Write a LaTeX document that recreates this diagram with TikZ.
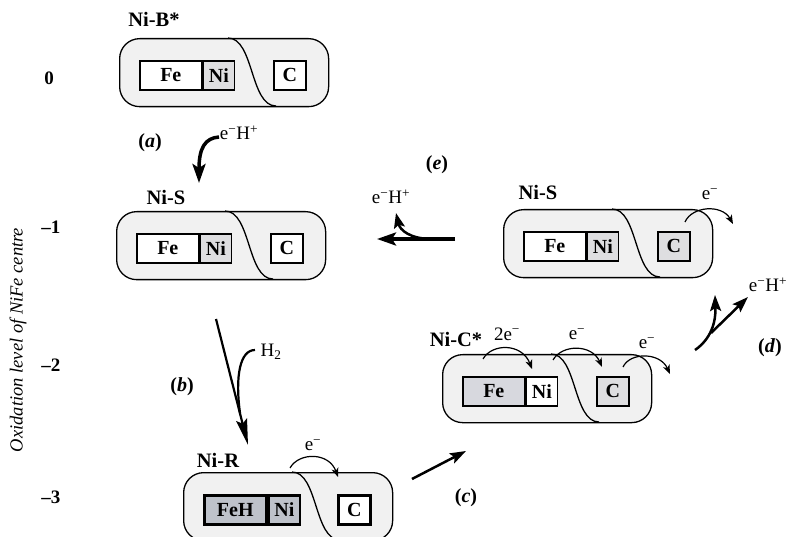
\documentclass[tikz,border=0pt]{standalone}
\usepackage{fontspec}
\setmainfont{Liberation Serif}
\usetikzlibrary{arrows.meta,calc}
\definecolor{boxbg}{RGB}{241,241,241}
\definecolor{nilt}{RGB}{222,222,224}
\definecolor{femid}{RGB}{215,216,222}
\definecolor{rgray}{RGB}{190,194,202}
\newcommand\cpx[7]{%
  \node[outer] (#1-out) at (#2) {};
  \draw[line width=1.3pt] ($(#1-out.north west)+(109,0)$) .. controls +(26,0) and +(-26,0) .. ($(#1-out.north west)+(157,68)$);
  \node[inbox, fill=#3, minimum width=62pt, #7] (#1-fe) at ($(#1-out.north west)+(20,22)$) {#6};
  \node[inbox, fill=#4, minimum width=31pt, #7] (#1-ni) at (#1-fe.north east) {Ni};
  \node[inbox, fill=#5, minimum width=32pt, #7] (#1-c) at ($(#1-out.north west)+(154,22)$) {C};
}
\begin{document}
\begin{tikzpicture}[x=1pt,y=-1pt,
  outer/.style={draw, line width=1.3pt, rounded corners=20pt, fill=boxbg, minimum width=209pt, minimum height=68pt, inner sep=0pt, anchor=north west},
  inbox/.style={draw, line width=1.6pt, minimum height=29pt, inner sep=0pt, anchor=north west, font=\fontsize{20}{22}\selectfont\bfseries},
  thickbox/.style={line width=2.6pt},
  lab/.style={font=\fontsize{20.5}{22}\selectfont\bfseries, inner sep=0pt},
  lev/.style={font=\fontsize{19}{22}\selectfont\bfseries, inner sep=0pt},
  chem/.style={font=\fontsize{19}{22}\selectfont, inner sep=0pt},
  plabel/.style={font=\fontsize{20}{22}\selectfont\bfseries, inner sep=0pt},
  thinarr/.style={line width=1.2pt, -{Stealth[length=9pt,width=7pt,inset=2.5pt]}},
  bigarr/.style={line width=3.5pt, -{Stealth[length=19pt,width=13pt,inset=4pt]}},
  medarr/.style={line width=2.5pt, -{Stealth[length=16pt,width=11pt,inset=3pt]}},
]
\useasboundingbox (0,0) rectangle (790,537);

% axis
\node[rotate=90, font=\fontsize{18.5}{22}\selectfont\itshape, inner sep=0pt] (axis) at (18,340) {Oxidation level of NiFe centre};
\node[lev] (l0) at (49,78) {0};
\node[lev] (l1) at (51,227) {–1};
\node[lev] (l2) at (51,365) {–2};
\node[lev] (l3) at (51,497) {–3};

% complexes
\cpx{nib}{119,38}{white}{nilt}{white}{Fe}{}
\node[lab] (nib-lab) at (154,19) {Ni-B*};

\cpx{nisl}{116,211}{white}{nilt}{white}{Fe}{}
\node[lab] (nisl-lab) at (166,197) {Ni-S};

\cpx{nisr}{503,209}{white}{nilt}{nilt}{Fe}{}
\node[lab] (nisr-lab) at (538,192) {Ni-S};

\cpx{nic}{442,354}{femid}{white}{nilt}{Fe}{}
\node[lab] (nic-lab) at (456,339) {Ni-C*};

\cpx{nir}{183,472}{rgray}{rgray}{white}{FeH}{thickbox}
\node[lab] (nir-lab) at (218,460) {Ni-R};

% electron transfer arrows
\coordinate (nisr-e1s) at (685,222);
\coordinate (nisr-e1e) at (733,224);
\draw[thinarr] (nisr-e1s) .. controls (692,206) and (722,204) .. (nisr-e1e);
\node[chem] (nisr-e1t) at (710,194) {e\textsuperscript{−}};

\coordinate (nic-e1s) at (483,359);
\coordinate (nic-e1e) at (532,369);
\draw[thinarr] (nic-e1s) .. controls (492,343) and (522,343) .. (nic-e1e);
\node[chem] (nic-e1t) at (507,334) {2e\textsuperscript{−}};

\coordinate (nic-e2s) at (553,360);
\coordinate (nic-e2e) at (602,367);
\draw[thinarr] (nic-e2s) .. controls (562,344) and (592,344) .. (nic-e2e);
\node[chem] (nic-e2t) at (577,334) {e\textsuperscript{−}};

\coordinate (nic-e3s) at (623,367);
\coordinate (nic-e3e) at (670,374);
\draw[thinarr] (nic-e3s) .. controls (630,352) and (660,352) .. (nic-e3e);
\node[chem] (nic-e3t) at (647,343) {e\textsuperscript{−}};

\coordinate (nir-e1s) at (290,468);
\coordinate (nir-e1e) at (338,477);
\draw[thinarr] (nir-e1s) .. controls (299,452) and (329,452) .. (nir-e1e);
\node[chem] (nir-e1t) at (313,445) {e\textsuperscript{−}};

% (a)
\node[plabel] (pa) at (150,143) {(\textit{a})};
\node[chem] (a-t) at (239,133) {e\textsuperscript{−}H\textsuperscript{+}};
\coordinate (a-s) at (219,137);
\coordinate (a-e) at (199,183);
\draw[bigarr] (a-s) .. controls (205,138) and (199,148) .. (a-e);

% (b)
\coordinate (b-s) at (216,319);
\coordinate (b-e) at (248,445);
\coordinate (b-j) at (240,413);
\coordinate (b-h) at (255,350);
\draw[line width=2.2pt, -{Stealth[length=26pt,width=11pt,inset=4pt]}] (b-s) -- (b-e);
\draw[line width=2.2pt] (b-h) .. controls (240,350) and (235,376) .. (b-j);
\node[chem] (b-t) at (271,352) {H\textsubscript{2}};
\node[plabel] (pb) at (182,387) {(\textit{b})};

% (c)
\coordinate (c-s) at (412,479);
\coordinate (c-e) at (466,451);
\draw[medarr] (c-s) -- (c-e);
\node[plabel] (pc) at (466,498) {(\textit{c})};

% (d)
\coordinate (d-s) at (695,350);
\coordinate (d-e) at (715,295);
\coordinate (d-j) at (711,333);
\coordinate (d-o) at (748,297);
\draw[medarr] (d-s) .. controls (711,339) and (716,322) .. (d-e);
\draw[medarr] (d-j) -- (d-o);
\node[chem] (d-t) at (768,285) {e\textsuperscript{−}H\textsuperscript{+}};
\node[plabel] (pd) at (770,348) {(\textit{d})};

% (e)
\coordinate (e-s) at (455,239);
\coordinate (e-e) at (377,239);
\coordinate (e-j) at (432,239);
\coordinate (e-o) at (396,213);
\draw[bigarr] (e-s) -- (e-e);
\draw[line width=2.5pt, -{Stealth[length=15pt,width=11pt,inset=3pt]}] (e-j) .. controls (410,239) and (400,230) .. (e-o);
\node[chem] (e-t) at (391,197) {e\textsuperscript{−}H\textsuperscript{+}};
\node[plabel] (pe) at (437,165) {(\textit{e})};
\end{tikzpicture}
\end{document}
